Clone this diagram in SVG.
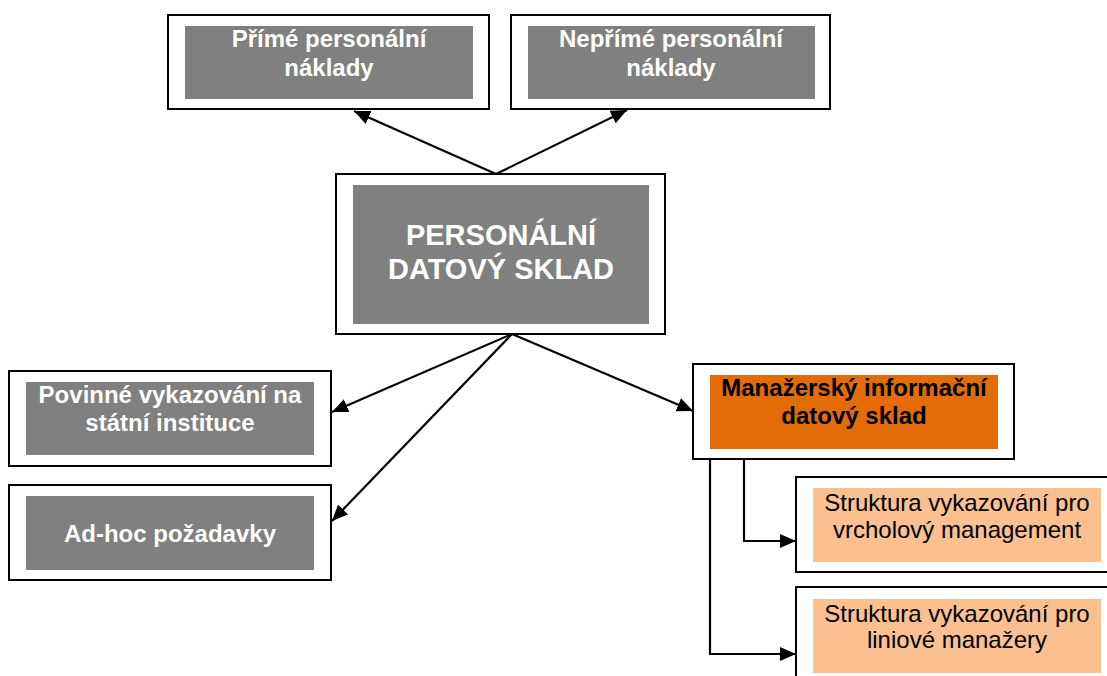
<svg xmlns="http://www.w3.org/2000/svg" width="1107" height="676" viewBox="0 0 1107 676">
  <style>
    .frame { fill: #ffffff; stroke: #000000; stroke-width: 2; }
    .grey { fill: #808080; }
    .orange { fill: #E36C09; }
    .peach { fill: #FAC090; }
    .lbl { font-family: "Liberation Sans", Arial, sans-serif; font-size: 24px; text-anchor: middle; }
    .w { fill: #ffffff; font-weight: bold; }
    .b { fill: #000000; font-weight: bold; }
    .n { fill: #000000; }
    .big { font-size: 29px; }
    .conn { fill: none; stroke: #000000; stroke-width: 2.2; }
  </style>
  <defs>
    <marker id="arrow" markerUnits="userSpaceOnUse" markerWidth="17" markerHeight="14" refX="16" refY="7" orient="auto">
      <path d="M0,0 L16,7 L0,14 z" fill="#000000"/>
    </marker>
  </defs>

  <rect width="1107" height="676" fill="#ffffff"/>

  <g id="connectors">
    <line class="conn" x1="496" y1="174" x2="354" y2="111" marker-end="url(#arrow)"/>
    <line class="conn" x1="496" y1="174" x2="627" y2="110" marker-end="url(#arrow)"/>
    <line class="conn" x1="512" y1="334" x2="332" y2="412" marker-end="url(#arrow)"/>
    <line class="conn" x1="512" y1="334" x2="332" y2="521" marker-end="url(#arrow)"/>
    <line class="conn" x1="512" y1="334" x2="693" y2="411" marker-end="url(#arrow)"/>
    <polyline class="conn" points="744,459 744,541 796,541" marker-end="url(#arrow)"/>
    <polyline class="conn" points="710,459 710,654 796,654" marker-end="url(#arrow)"/>
  </g>

  <g id="node-prime">
    <rect class="frame" x="168" y="15" width="321" height="94"/>
    <rect class="grey" x="185" y="26" width="288" height="73"/>
    <text class="lbl w" x="329" y="47">Přímé personální</text>
    <text class="lbl w" x="329" y="76">náklady</text>
  </g>

  <g id="node-neprime">
    <rect class="frame" x="511" y="15" width="319" height="94"/>
    <rect class="grey" x="528" y="26" width="287" height="73"/>
    <text class="lbl w" x="671" y="47">Nepřímé personální</text>
    <text class="lbl w" x="671" y="76">náklady</text>
  </g>

  <g id="node-center">
    <rect class="frame" x="336" y="174" width="329" height="160"/>
    <rect class="grey" x="353" y="185" width="296" height="139"/>
    <text class="lbl w big" x="501" y="245">PERSONÁLNÍ</text>
    <text class="lbl w big" x="501" y="279">DATOVÝ SKLAD</text>
  </g>

  <g id="node-povinne">
    <rect class="frame" x="9" y="371" width="322" height="95"/>
    <rect class="grey" x="26" y="382" width="288" height="73"/>
    <text class="lbl w" x="170" y="403">Povinné vykazování na</text>
    <text class="lbl w" x="170" y="431">státní instituce</text>
  </g>

  <g id="node-adhoc">
    <rect class="frame" x="9" y="485" width="322" height="95"/>
    <rect class="grey" x="26" y="496" width="288" height="74"/>
    <text class="lbl w" x="170" y="542">Ad-hoc požadavky</text>
  </g>

  <g id="node-mis">
    <rect class="frame" x="693" y="364" width="321" height="95"/>
    <rect class="orange" x="710" y="375" width="288" height="74"/>
    <text class="lbl b" x="854" y="396">Manažerský informační</text>
    <text class="lbl b" x="854" y="424">datový sklad</text>
  </g>

  <g id="node-top-mgmt">
    <rect class="frame" x="796" y="477" width="330" height="95"/>
    <rect class="peach" x="813" y="488" width="288" height="74"/>
    <text class="lbl n" x="957" y="511">Struktura vykazování pro</text>
    <text class="lbl n" x="957" y="538">vrcholový management</text>
  </g>

  <g id="node-line-mgmt">
    <rect class="frame" x="796" y="587" width="330" height="110"/>
    <rect class="peach" x="813" y="599" width="288" height="74"/>
    <text class="lbl n" x="957" y="622">Struktura vykazování pro</text>
    <text class="lbl n" x="957" y="648">liniové manažery</text>
  </g>
</svg>
